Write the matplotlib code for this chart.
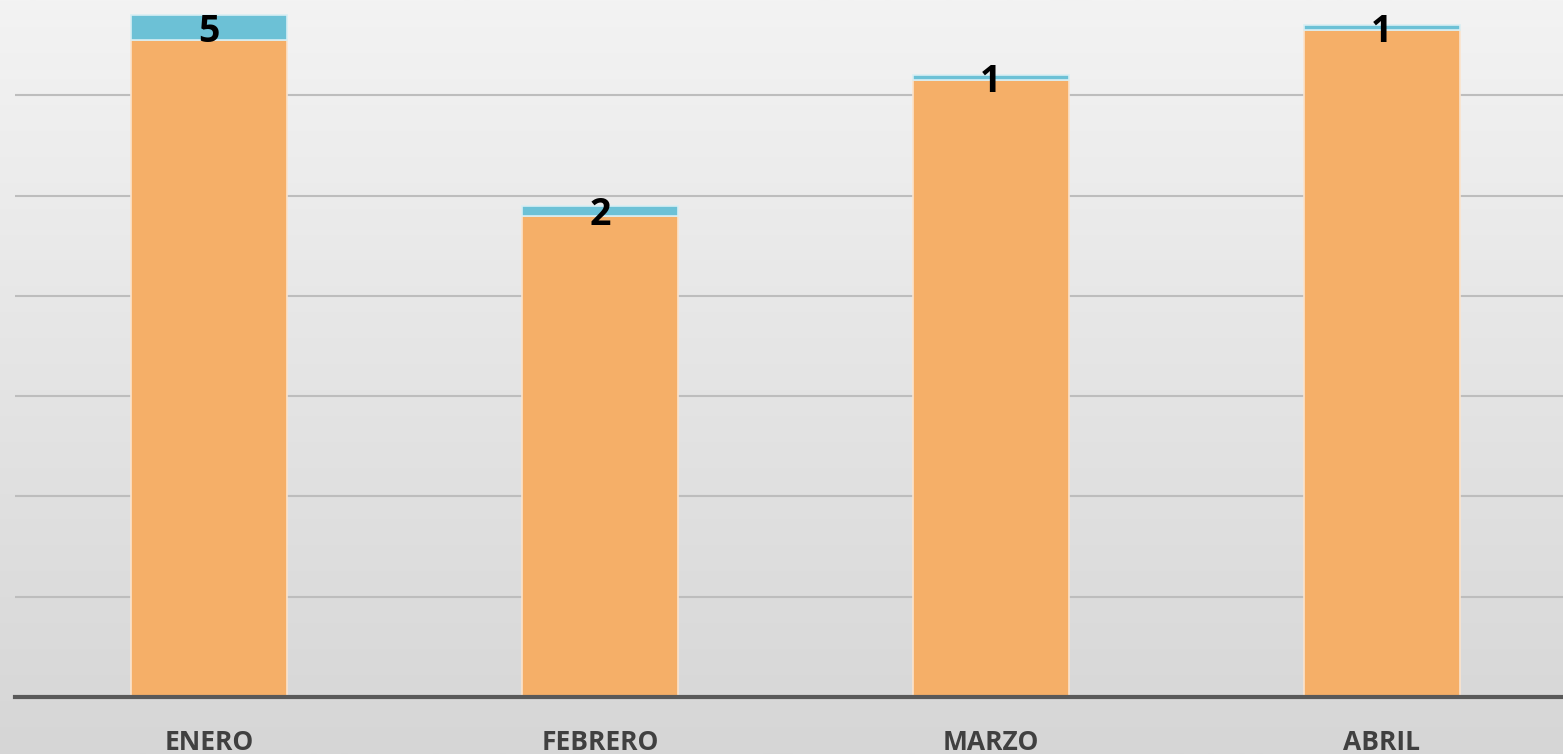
import matplotlib.pyplot as plt
import numpy as np

meses = ['ENERO', 'FEBRERO', 'MARZO', 'ABRIL']
base = [131, 96, 123, 133]   # orange segment
extra = [5, 2, 1, 1]         # blue segment (labelled)

fig = plt.figure(figsize=(15.63, 7.54), dpi=100)

# background gradient, light at the top and darker at the bottom
bg = fig.add_axes([0, 0, 1, 1], zorder=-10)
grad = np.linspace(0, 1, 256).reshape(-1, 1)
bg.imshow(grad, aspect='auto', cmap=plt.matplotlib.colors.LinearSegmentedColormap.from_list(
    'bg', ['#f3f3f3', '#d6d6d6']), extent=[0, 1, 0, 1], origin='upper')
bg.axis('off')

ax = fig.add_axes([0.0096, 0.0756, 0.9904, 0.9244])
ax.patch.set_alpha(0)
x = np.arange(len(meses))

ax.bar(x, base, width=0.4, color='#f5af68', edgecolor='#fbe3cc', linewidth=1.2, zorder=3)
ax.bar(x, extra, bottom=base, width=0.4, color='#6cc1d6', edgecolor='#d8eef3', linewidth=1.2, zorder=3)
for xi, b, e in zip(x, base, extra):
    ax.annotate(str(e), (xi, b + e / 2), xytext=(0, -3), textcoords='offset points',
                ha='center', va='center', fontsize=27, fontweight='bold',
                color='black', family='Open Sans', zorder=5)

ax.set_xlim(-0.496, 3.463)
ax.set_ylim(0, 139)
ax.set_yticks([20, 40, 60, 80, 100, 120])
ax.yaxis.grid(True, color='#bdbdbd', linewidth=1.5)
ax.set_axisbelow(True)
ax.tick_params(axis='y', left=False, labelleft=False)
ax.set_xticks(x)
ax.set_xticklabels(meses, fontsize=19, fontweight='bold', color='#404040', family='Open Sans')
ax.tick_params(axis='x', bottom=False, pad=19.5)
for s in ['top', 'right', 'left']:
    ax.spines[s].set_visible(False)
ax.spines['bottom'].set_color('#595959')
ax.spines['bottom'].set_linewidth(3)
ax.spines['bottom'].set_zorder(4)

fig.savefig('out.png', dpi=100)
